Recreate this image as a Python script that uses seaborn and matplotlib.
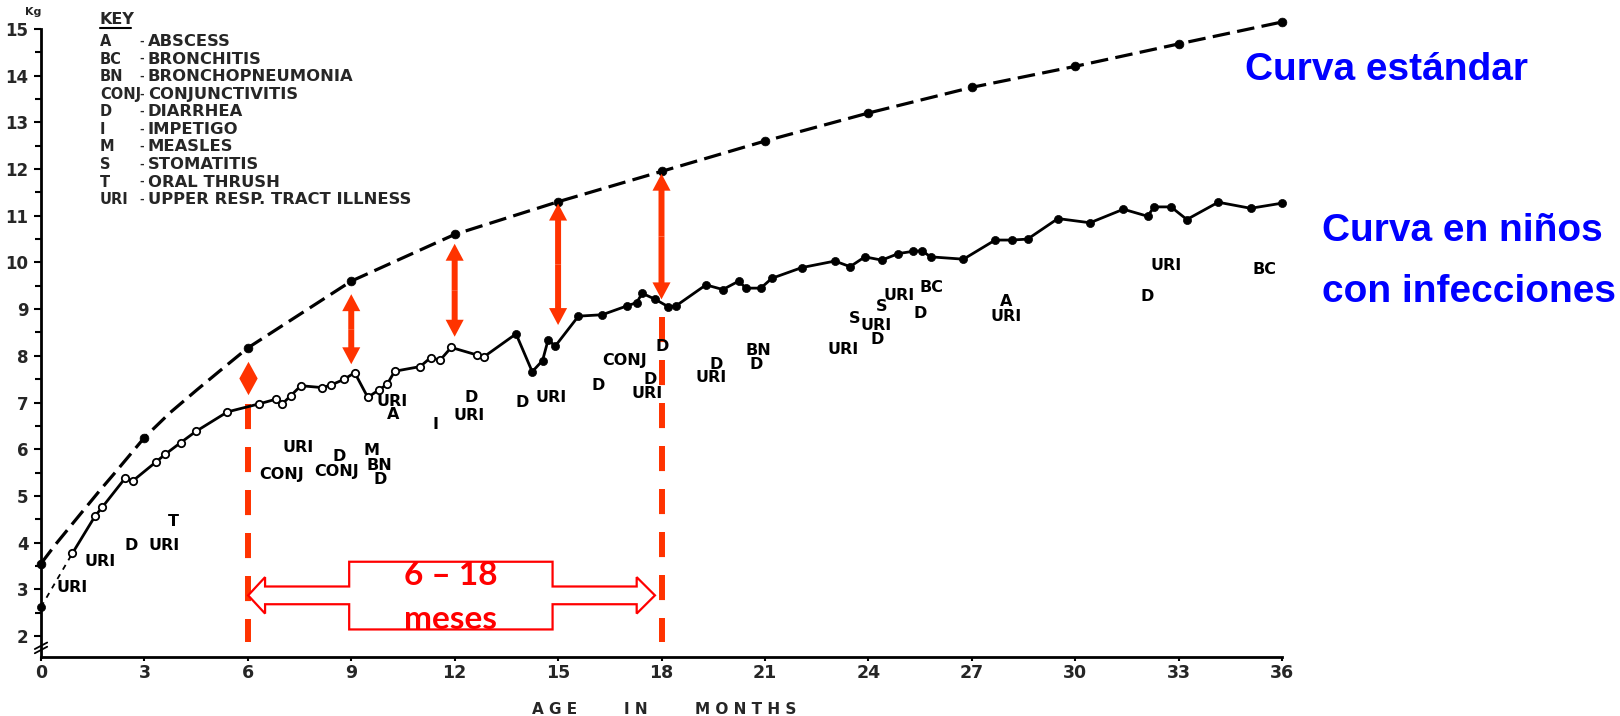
import matplotlib
matplotlib.use("Agg")
import matplotlib.pyplot as plt
import seaborn as sns
import pandas as pd
from matplotlib.patches import Polygon

# ---------------- data ----------------
# standard curve: dots every 3 months, plus extra points
std_months = [0, 3, 6, 9, 12, 15, 18, 21, 24, 27, 30, 33, 36]
std_kg = [3.55, 6.25, 8.17, 9.6, 10.6, 11.3, 11.95, 12.6, 13.2, 13.75, 14.2, 14.68, 15.15]
std_line_months = [0, 0.41, 1.13, 1.71, 2.15, 3, 3.74, 4.52, 5.19, 6, 9, 12, 15, 18,
                   21, 24, 27, 30, 33, 36]
std_line_kg = [3.55, 3.95, 4.60, 5.12, 5.50, 6.25, 6.78, 7.27, 7.68, 8.17, 9.6, 10.6,
               11.3, 11.95, 12.6, 13.2, 13.75, 14.2, 14.68, 15.15]

inf_months = [0.0, 0.91, 1.57, 1.78, 2.44, 2.66, 3.34, 3.60, 4.05, 4.49, 5.41, 6.32,
              6.81, 7.0, 7.25, 7.54, 8.15, 8.4, 8.8, 9.1, 9.48, 9.8, 10.04, 10.26,
              11.0, 11.3, 11.58, 11.9, 12.64, 12.85, 13.78, 14.25, 14.55, 14.71, 14.92,
              15.59, 16.28, 17.0, 17.28, 17.44, 17.82, 18.2, 18.42, 19.29, 19.78, 20.24,
              20.45, 20.88, 21.2, 22.07, 23.03, 23.47, 23.9, 24.39, 24.87, 25.31, 25.55,
              25.81, 26.76, 27.68, 28.16, 28.62, 29.5, 30.43, 31.4, 32.1, 32.29, 32.78,
              33.24, 34.15, 35.09, 36.0]
inf_kg = [2.62, 3.77, 4.57, 4.76, 5.38, 5.32, 5.73, 5.89, 6.14, 6.38, 6.80, 6.97,
          7.07, 6.97, 7.15, 7.36, 7.32, 7.37, 7.50, 7.64, 7.11, 7.27, 7.39, 7.67,
          7.77, 7.96, 7.91, 8.18, 8.02, 7.98, 8.47, 7.66, 7.90, 8.34, 8.21,
          8.85, 8.88, 9.07, 9.14, 9.34, 9.21, 9.05, 9.07, 9.52, 9.42, 9.60,
          9.45, 9.45, 9.66, 9.89, 10.03, 9.91, 10.12, 10.05, 10.19, 10.24, 10.25,
          10.12, 10.07, 10.48, 10.48, 10.50, 10.94, 10.85, 11.14, 10.99, 11.19, 11.19,
          10.92, 11.29, 11.16, 11.27]

ill_text = ["URI", "URI", "D", "URI", "T", "URI", "CONJ", "D", "CONJ", "M", "BN", "D",
            "URI", "A", "I", "D", "URI", "D", "URI", "D", "CONJ", "D", "URI", "D",
            "D", "URI", "BN", "D", "URI", "S", "URI", "D", "S", "URI", "BC", "D",
            "A", "URI", "URI", "D", "BC"]
ill_month = [0.89, 1.71, 2.61, 3.58, 3.84, 7.46, 6.98, 8.65, 8.58, 9.59, 9.83, 9.83,
             10.18, 10.22, 11.45, 12.47, 12.42, 13.95, 14.81, 16.17, 16.94, 17.66, 17.58, 18.02,
             19.6, 19.43, 20.81, 20.75, 23.28, 23.6, 24.24, 24.26, 24.39, 24.9, 25.82, 25.5,
             28.0, 27.99, 32.63, 32.1, 35.5]
ill_kg = [3.03, 3.59, 3.93, 3.93, 4.45, 6.04, 5.45, 5.84, 5.52, 5.98, 5.66, 5.36,
          7.03, 6.74, 6.53, 7.11, 6.72, 7.0, 7.11, 7.36, 7.91, 7.5, 7.2, 8.21,
          7.82, 7.54, 8.12, 7.81, 8.13, 8.8, 8.64, 8.34, 9.05, 9.3, 9.47, 8.9,
          9.16, 8.84, 9.93, 9.27, 9.85]

key_codes = ["A", "BC", "BN", "CONJ", "D", "I", "M", "S", "T", "URI"]
key_names = ["ABSCESS", "BRONCHITIS", "BRONCHOPNEUMONIA", "CONJUNCTIVITIS", "DIARRHEA",
             "IMPETIGO", "MEASLES", "STOMATITIS", "ORAL THRUSH", "UPPER RESP. TRACT ILLNESS"]

x_ticks = list(range(0, 37, 3))
y_ticks = list(range(2, 16))

gap_months = [9, 12, 15, 18]
gap_top = [9.32, 10.40, 11.26, 11.90]
gap_bottom = [7.82, 8.41, 8.66, 9.21]

period_bounds = [6, 18]
period_tops = [6.97, 8.83]

# ---------------- style ----------------
sns.set_theme(style="white")
plt.rcParams["font.family"] = ["DejaVu Sans"]
plt.rcParams["font.weight"] = "bold"

RED = "#FF3300"
RED2 = "#FF0000"
BLUE = "#0000FF"

fig = plt.figure(figsize=(16.2, 7.16), dpi=100)
ax = fig.add_axes([41 / 1620, 59 / 716, 1241 / 1620, 628 / 716])
ax.set_xlim(0, 36)
ax.set_ylim(1.55, 15)

# standard curve (dashed line + dots)
std_line_df = pd.DataFrame({"month": std_line_months, "kg": std_line_kg})
std_df = pd.DataFrame({"month": std_months, "kg": std_kg})
sns.lineplot(data=std_line_df, x="month", y="kg", ax=ax, color="black", lw=2.3,
             linestyle=(0, (5.5, 2.3)), clip_on=False, zorder=3)
sns.scatterplot(data=std_df, x="month", y="kg", ax=ax, s=40, color="black",
                edgecolor="black", linewidth=0.5, zorder=4, clip_on=False)

# infection curve
inf_df = pd.DataFrame({"month": inf_months, "kg": inf_kg})
sns.lineplot(data=inf_df.iloc[:2], x="month", y="kg", ax=ax, color="black", lw=1.3,
             linestyle=(0, (3, 3)), zorder=3)
sns.lineplot(data=inf_df.iloc[1:], x="month", y="kg", ax=ax, color="black", lw=2.0,
             clip_on=False, zorder=3)
open_df = inf_df[(inf_df.month > 0.5) & (inf_df.month < 13)]
fill_df = inf_df[(inf_df.month >= 13) | (inf_df.month < 0.5)]
sns.scatterplot(data=open_df, x="month", y="kg", ax=ax, s=28, color="white",
                edgecolor="black", linewidth=1.3, zorder=4, clip_on=False)
sns.scatterplot(data=fill_df, x="month", y="kg", ax=ax, s=34, color="black",
                edgecolor="black", linewidth=0.5, zorder=4, clip_on=False)

# illness labels
for t, mx, ky in zip(ill_text, ill_month, ill_kg):
    ax.text(mx, ky, t, ha="center", va="center", fontsize=11.5, fontweight="bold",
            color="black", zorder=5)

# key
ax.text(1.71, 15.2, "KEY", ha="left", va="center", fontsize=11.5, fontweight="bold")
ax.plot([1.71, 2.62], [15.03, 15.03], color="black", lw=1.5, clip_on=False)
for i, (c, n) in enumerate(zip(key_codes, key_names)):
    yy = 14.73 - i * 0.376
    ax.text(1.71, yy, c, ha="left", va="center", fontsize=10.5, fontweight="bold")
    ax.text(2.93, yy, "-", ha="center", va="center", fontsize=8, fontweight="bold")
    ax.text(3.1, yy, n, ha="left", va="center", fontsize=11.8, fontweight="bold")

# red dashed period lines
for m, top in zip(period_bounds, period_tops):
    ax.plot([m, m], [top, 1.88], color=RED, lw=4.3, linestyle=(0, (4.2, 3.0)),
            dash_capstyle="butt", zorder=2)

# diamond at 6 months
ax.plot([period_bounds[0]], [7.52], linestyle="none", color=RED, markeredgewidth=0,
        marker=[(0, 1), (0.55, 0), (0, -1), (-0.55, 0), (0, 1)], markersize=24, zorder=6)

# double headed gap arrows
arrow_kw = dict(arrowstyle="simple,head_length=1.22,head_width=1.3,tail_width=0.43",
                mutation_scale=10, color=RED, lw=0, shrinkA=0, shrinkB=0)
for m, t, b in zip(gap_months, gap_top, gap_bottom):
    mid = (t + b) / 2
    ax.annotate("", xy=(m, t), xytext=(m, mid), arrowprops=arrow_kw, zorder=6)
    ax.annotate("", xy=(m, b), xytext=(m, mid), arrowprops=arrow_kw, zorder=6)

# hollow double arrow with box "6 - 18 meses"
tipL, tipR, backL, backR = 6.01, 17.81, 6.5, 17.28
yc, hh, sh = 2.87, 0.39, 0.19
bx0, bx1, by0, by1 = 8.94, 14.84, 2.14, 3.59
verts = [(tipL, yc), (backL, yc + hh), (backL, yc + sh), (bx0, yc + sh), (bx0, by1),
         (bx1, by1), (bx1, yc + sh), (backR, yc + sh), (backR, yc + hh), (tipR, yc),
         (backR, yc - hh), (backR, yc - sh), (bx1, yc - sh), (bx1, by0), (bx0, by0),
         (bx0, yc - sh), (backL, yc - sh), (backL, yc - hh)]
ax.add_patch(Polygon(verts, closed=True, facecolor="white", edgecolor=RED2, lw=1.6,
                     zorder=6))
ax.text((bx0 + bx1) / 2, 3.3, "6 – 18", ha="center", va="center", fontsize=24,
        fontweight="bold", color=RED2, family=["Lato", "DejaVu Sans"], zorder=7)
ax.text((bx0 + bx1) / 2, 2.36, "meses", ha="center", va="center", fontsize=24,
        fontweight="bold", color=RED2, family=["Lato", "DejaVu Sans"], zorder=7)

# axes styling
sns.despine(ax=ax, top=True, right=True)
for sp in ["left", "bottom"]:
    ax.spines[sp].set_color("black")
    ax.spines[sp].set_linewidth(2)
ax.set_xticks(x_ticks)
ax.set_yticks(y_ticks)
ax.set_yticks([v + 0.5 for v in y_ticks[:-1]], minor=True)
ax.tick_params(axis="y", which="major", direction="out", length=5, width=1.5,
               color="black", left=True, labelsize=12, pad=4)
ax.tick_params(axis="y", which="minor", direction="out", length=4, width=1.5,
               color="black", left=True)
ax.tick_params(axis="x", which="major", direction="out", length=3, width=1.5,
               color="black", bottom=True, labelsize=12.5, pad=2)
for lab in ax.get_xticklabels() + ax.get_yticklabels():
    lab.set_fontweight("bold")
ax.set_xlabel("")
ax.set_ylabel("")
ax.grid(False)

# axis break marks on y axis
for dy in (0.0, 0.09):
    ax.plot([-0.18, 0.18], [1.63 + dy, 1.77 + dy], color="black", lw=1.3, clip_on=False)

# Kg label and x label
fig.text(33 / 1620, 1 - 12 / 716, "Kg", ha="center", va="center", fontsize=8,
         fontweight="bold")
fig.text(555 / 1620, 1 - 710 / 716, "A G E", ha="center", va="center", fontsize=11,
         fontweight="bold")
fig.text(636 / 1620, 1 - 710 / 716, "I N", ha="center", va="center", fontsize=11,
         fontweight="bold")
fig.text(746 / 1620, 1 - 710 / 716, "M O N T H S", ha="center", va="center", fontsize=11,
         fontweight="bold")

# blue annotations
blue_fam = ["Liberation Sans", "DejaVu Sans"]
fig.text(1245 / 1620, 1 - 80 / 716, "Curva estándar", ha="left", va="baseline",
         fontsize=28, fontweight="bold", color=BLUE, family=blue_fam)
fig.text(1322 / 1620, 1 - 241 / 716, "Curva en niños", ha="left", va="baseline",
         fontsize=28, fontweight="bold", color=BLUE, family=blue_fam)
fig.text(1322 / 1620, 1 - 302 / 716, "con infecciones", ha="left", va="baseline",
         fontsize=28, fontweight="bold", color=BLUE, family=blue_fam)

fig.savefig("out.png", dpi=100, facecolor="white")
